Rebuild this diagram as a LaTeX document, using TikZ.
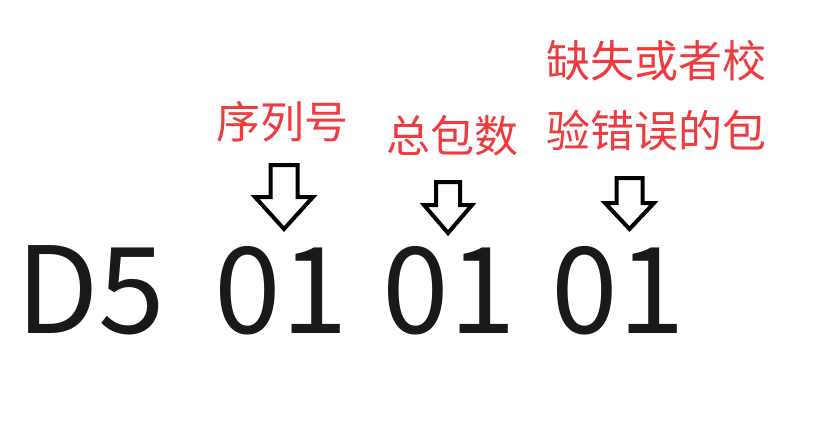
\documentclass[tikz,border=0pt]{standalone}
\usepackage{fontspec}
\setmainfont{Noto Sans CJK SC}
\usetikzlibrary{positioning}
\definecolor{label_red}{HTML}{EE3B3F}
\colorlet{labelred}{label_red}
\tikzset{
  hexbyte/.style={inner sep=0pt,anchor=base,text=black!90,font=\fontsize{120}{120}\selectfont},
  fieldlabel/.style={inner sep=0pt,text=labelred,font=\fontsize{44}{50}\selectfont},
  hollowarrow/.style={draw=black,line width=4pt,fill=white,line join=miter},
}

\begin{document}
\begin{tikzpicture}[x=1pt,y=-1pt]
	    \useasboundingbox (0,0) rectangle (832,444);
	    \node[hexbyte] (HEAD) at (91,333) {D5};
	    \node[hexbyte] (SEQ) at (281,333) {01};
	    \node[hexbyte] (TOTAL) at (449,333) {01};
	    \node[hexbyte] (LOST) at (618,333) {01};
	    \node[fieldlabel] (SEQL) at (282,122) {序列号};
	    \node[fieldlabel] (TOTALL) at (452,136) {总包数};
	    \node[fieldlabel] (LOSTA) at (656,61) {缺失或者校};
	    \node[fieldlabel,below=28pt of LOSTA] (LOSTB) {验错误的包};
	    % centre x, top, tip, head half width, shaft half width, head start
	    \foreach \cx/\top/\tip/\hw/\sw/\hy in {284/165/229/29/13.5/197,448/182/233/24/12/205,629.5/178/229/24.5/13/203}
	      \draw[hollowarrow] (\cx-\sw,\top) -- (\cx+\sw,\top) -- (\cx+\sw,\hy) -- (\cx+\hw,\hy)
	        -- (\cx,\tip) -- (\cx-\hw,\hy) -- (\cx-\sw,\hy) -- cycle;
	\end{tikzpicture}
\end{document}
